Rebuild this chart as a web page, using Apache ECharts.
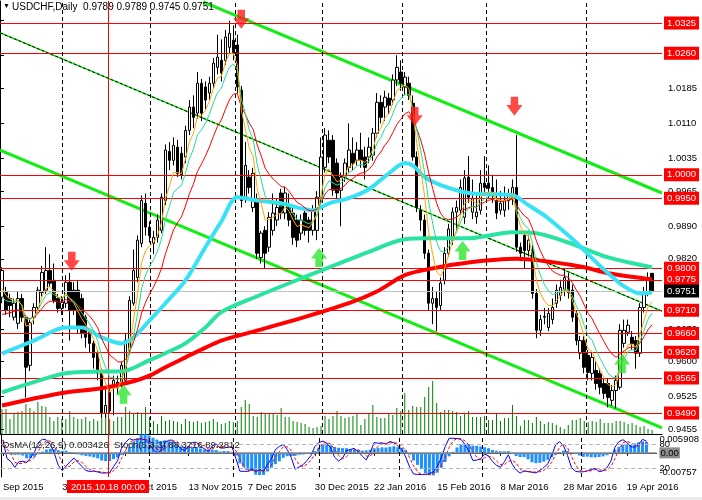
<!DOCTYPE html>
<html><head><meta charset="utf-8">
<script src="https://cdn.jsdelivr.net/npm/echarts@6/dist/echarts.min.js"></script>
<style>html,body{margin:0;padding:0;background:#fff}#c{width:702px;height:500px}</style>
</head><body><div id="c"></div>
<script>
// ---------- data ----------
const headerText = 'USDCHF,Daily  0.9789 0.9789 0.9745 0.9751';
const indicatorText = 'OsMA(12,26,9) 0.003426  Stoch(5,3,3) 88.3716 89.2812';
// candles: [open, close, low, high]
const candles = [
[.9738,.9795,.9725,.9802],[.9748,.9710,.9700,.9760],[.9735,.9720,.9695,.9745],[.9695,.9725,.9688,.9735],
[.9682,.9735,.9670,.9750],[.9735,.9695,.9685,.9745],[.9695,.9588,.9523,.9700],[.9592,.9684,.9580,.9690],
[.9695,.9716,.9680,.9725],[.9716,.9753,.9705,.9760],[.9748,.9791,.9740,.9805],[.9753,.9795,.9745,.9845],
[.9795,.9768,.9760,.9830],[.9774,.9731,.9725,.9810],[.9735,.9714,.9705,.9745],[.9714,.9727,.9700,.9740],
[.9725,.9770,.9715,.9785],[.9770,.9710,.9645,.9790],[.9753,.9710,.9700,.9770],[.9753,.9673,.9660,.9775],
[.9735,.9660,.9650,.9745],[.9695,.9652,.9630,.9700],[.9663,.9639,.9620,.9670],[.9639,.9609,.9585,.9645],
[.9618,.9575,.9560,.9625],[.9577,.9489,.9480,.9585],[.9489,.9506,.9480,.9540],[.9534,.9495,.9490,.9550],
[.9545,.9560,.9485,.9570],[.9556,.9545,.9530,.9570],[.9553,.9592,.9545,.9600],[.9560,.9645,.9550,.9660],
[.9624,.9731,.9615,.9740],[.9725,.9795,.9720,.9840],[.9780,.9860,.9770,.9870],[.9853,.9945,.9845,.9956],
[.9939,.9888,.9870,.9960],[.9888,.9870,.9855,.9900],[.9853,.9866,.9830,.9880],[.9866,.9903,.9855,.9915],
[.9881,.9952,.9875,.9960],[.9945,1.0053,.9935,1.0065],[1.0050,1.0031,1.0010,1.0070],[1.0031,1.0063,1.0020,1.0080],
[1.0059,1.0003,.9995,1.0075],[1.0046,.9999,.9990,1.0060],[1.0038,1.0095,1.0025,1.0105],[1.0095,1.0145,1.0085,1.0160],
[1.0145,1.0123,1.0100,1.0170],[1.0132,1.0196,1.0120,1.0220],[1.0196,1.0132,1.0115,1.0205],[1.0188,1.0160,1.0140,1.0200],
[1.0175,1.0196,1.0160,1.0210],[1.0196,1.0239,1.0185,1.0250],[1.0230,1.0252,1.0215,1.0300],[1.0245,1.0218,1.0200,1.0290],
[1.0245,1.0295,1.0235,1.0310],[1.0273,1.0303,1.0260,1.0330],[1.0288,1.0260,1.0245,1.0320],[1.0278,1.0188,1.0175,1.0300],
[1.0181,.9945,.9930,1.0190],[.9950,1.0020,.9940,1.0070],[.9995,.9973,.9960,1.0010],[.9930,1.0003,.9920,1.0015],
[.9945,.9832,.9820,.9960],[.9823,.9875,.9810,.9880],[.9881,.9832,.9800,.9890],[.9845,.9909,.9835,.9920],
[.9881,.9918,.9870,.9960],[.9903,.9930,.9890,.9950],[.9961,.9918,.9905,.9970],[.9918,.9961,.9905,.9975],
[.9930,.9903,.9890,.9960],[.9918,.9866,.9850,.9930],[.9903,.9860,.9845,.9915],[.9875,.9903,.9860,.9915],
[.9918,.9881,.9870,.9930],[.9903,.9881,.9855,.9910],[.9881,.9924,.9870,.9935],[.9881,.9952,.9860,.9965],
[.9952,1.0038,.9940,1.0080],[1.0016,1.0085,1.0005,1.0100],[1.0074,1.0038,1.0025,1.0095],[1.0074,.9967,.9955,1.0085],
[1.0025,.9961,.9950,1.0035],[.9967,.9995,.9890,1.0005],[.9995,1.0025,.9985,1.0035],[1.0016,1.0053,1.0005,1.0110],
[1.0046,1.0025,1.0010,1.0080],[1.0031,1.0053,1.0020,1.0070],[1.0053,1.0031,1.0015,1.0090],[1.0038,1.0016,.9990,1.0060],
[1.0038,1.0059,1.0025,1.0080],[1.0042,1.0089,1.0030,1.0100],[1.0089,1.0155,1.0080,1.0175],[1.0155,1.0123,1.0110,1.0170],
[1.0145,1.0166,1.0115,1.0180],[1.0164,1.0149,1.0130,1.0175],[1.0160,1.0203,1.0150,1.0215],[1.0203,1.0230,1.0190,1.0256],
[1.0220,1.0196,1.0180,1.0245],[1.0188,1.0209,1.0170,1.0220],[1.0196,1.0170,1.0160,1.0210],[1.0153,1.0038,1.0030,1.0170],
[1.0038,.9930,.9920,1.0050],[.9924,.9903,.9880,.9935],[.9903,.9832,.9820,.9915],[.9832,.9725,.9710,.9840],
[.9725,.9735,.9680,.9760],[.9735,.9716,.9665,.9750],[.9720,.9768,.9710,.9780],[.9774,.9832,.9765,.9845],
[.9832,.9884,.9825,.9895],[.9860,.9920,.9850,.9930],[.9920,.9930,.9880,.9945],[.9924,.9973,.9915,.9990],
[.9909,.9993,.9895,1.0010],[.9995,.9952,.9940,1.0040],[.9920,.9950,.9905,.9990],[.9910,.9920,.9895,.9960],
[.9924,.9982,.9915,1.0010],[.9982,.9973,.9955,1.0040],[.9982,.9971,.9950,1.0020],[.9973,.9963,.9940,1.0000],
[.9945,.9918,.9905,.9990],[.9924,.9939,.9915,.9965],[.9924,.9945,.9910,.9975],[.9945,.9956,.9925,.9970],
[.9952,.9973,.9935,.9990],[.9973,.9845,.9835,1.0085],[.9845,.9832,.9815,.9855],[.9870,.9838,.9800,.9880],
[.9838,.9860,.9825,.9870],[.9840,.9746,.9735,.9850],[.9746,.9667,.9650,.9755],[.9667,.9690,.9655,.9700],
[.9695,.9697,.9680,.9715],[.9673,.9703,.9665,.9715],[.9690,.9716,.9680,.9735],[.9725,.9753,.9715,.9765],
[.9742,.9759,.9730,.9775],[.9753,.9780,.9740,.9800],[.9774,.9748,.9735,.9790],[.9753,.9695,.9685,.9765],
[.9703,.9645,.9635,.9710],[.9618,.9645,.9605,.9655],[.9645,.9588,.9575,.9655],[.9613,.9577,.9560,.9625],
[.9575,.9609,.9560,.9620],[.9581,.9553,.9540,.9600],[.9575,.9545,.9530,.9585],[.9553,.9532,.9520,.9565],
[.9553,.9523,.9502,.9565],[.9517,.9538,.9505,.9550],[.9538,.9560,.9500,.9570],[.9545,.9667,.9540,.9680],
[.9639,.9667,.9630,.9690],[.9663,.9678,.9655,.9690],[.9652,.9639,.9625,.9665],[.9645,.9618,.9585,.9655],
[.9618,.9716,.9610,.9725],[.9716,.9746,.9705,.9760],[.9746,.9774,.9740,.9791],[.9789,.9751,.9745,.9789]
];
const volumes = [
25,25,15,20,22,23,30,26,23,32, 28,27,17,13,17,15,15,23,17,15, 15,17,13,15,13,20,20,15,13,17,
17,27,23,20,22,21,27,17,13,10, 18,13,14,13,12,10,15,13,12,13, 11,12,13,15,12,10,11,13,12,13,
27,34,30,18,17,22,21,20,21,19, 26,17,17,13,12,11,10,7,6,7, 8,18,15,18,23,18,16,17,18,21,
9,15,21,29,17,16,16,21,19,26, 23,41,24,28,27,27,37,47,53,31, 22,24,24,23,22,18,20,23,17,17,
17,18,14,14,21,13,16,16,29,18, 8,14,14,11,17,13,10,12,11,9, 7,5,9,14,14,16,13,12,13,12,
15,11,11,11,13,13,12,10,11,9, 7,8,5,4
];
// slow moving averages: [bar, price]
const maCyan = [[0,.9617],[8,.9645],[16,.9673],[20,.9673],[25,.9652],[30,.9639],[33,.9652],[37,.9688],[41,.9725],[46,.9774],[51,.9845],[55,.9900],[59,.9952],[64,.9945],[70,.9939],[75,.9928],[78,.9924],[82,.9939],[87,.9950],[92,.9969],[97,1.0003],[101,1.0025],[103,1.0020],[106,.9995],[110,.9978],[117,.9961],[128,.9956],[132,.9935],[136,.9913],[140,.9885],[144,.9855],[148,.9821],[152,.9789],[156,.9761],[160,.9746],[163,.9748]];
const maTeal = [[0,.9534],[8,.9556],[16,.9575],[25,.9579],[30,.9579],[37,.9603],[41,.9618],[46,.9639],[51,.9673],[55,.9706],[64,.9740],[75,.9778],[92,.9835],[101,.9862],[107,.9864],[117,.9864],[128,.9877],[134,.9875],[142,.9855],[152,.9823],[163,.9802]];
const maRed = [[0,.9506],[8,.9521],[16,.9534],[25,.9543],[33,.9558],[37,.9570],[41,.9588],[46,.9609],[51,.9630],[55,.9645],[62,.9662],[75,.9693],[87,.9725],[94,.9750],[101,.9785],[107,.9798],[117,.9812],[129,.9820],[138,.9813],[146,.9802],[152,.9789],[163,.9776]];
const thinMaPeriods = [5, 8, 15];
const thinMaStart = [0.9738, 0.9720, 0.9688];
const levels = [1.0325, 1.0260, 1.0000, 0.9950, 0.9800, 0.9775, 0.9710, 0.9660, 0.9620, 0.9565, 0.9490];
const lastPrice = 0.9751;
const priceTicks = [0.9455, 0.9525, 0.9600, 0.9670, 0.9745, 0.9820, 0.9890, 0.9965, 1.0035, 1.0110, 1.0185, 1.0255, 1.0330];
const dateLabels = {0:'Sep 2015',15:'30 Sep 2015',31:'22 Oct 2015',47:'13 Nov 2015',62:'7 Dec 2015',79:'30 Dec 2015',94:'22 Jan 2016',110:'15 Feb 2016',126:'8 Mar 2016',142:'28 Mar 2016',158:'19 Apr 2016'};
const monthSeparators = [15.5, 37.6, 58.9, 80.7, 100.8, 121.9, 146.9];
const markerBar = 27.1;
const markerText = '2015.10.18 00:00';
const channelUpper = [[50.4, 1.0370], [165.5, 0.9961]];
const channelLower = [[-0.5, 1.0053], [165.5, 0.9458]];
const channelMid = [[-0.5, 1.0304], [165.5, 0.9708]];
const downArrows = [[17.5, 0.9815], [60, 1.0333], [103.5, 1.0125], [128.5, 1.0147]];
const upArrows = [[30.5, 0.9530], [79.5, 0.9823], [115.5, 0.9838], [155.5, 0.9596]];
const osmaRange = [-0.00757, 0.005908];
const stochLevels = [80, 20];

// ---------- derived ----------
const NCAT = 166;
const cats = Array.from({length: NCAT}, (_, i) => String(i));
const closes = candles.map(c => c[1]), lows = candles.map(c => c[2]), highs = candles.map(c => c[3]);
function ema(src, n, seed) { const a = 2 / (n + 1); let e = seed; return src.map(v => (e += a * (v - e))); }
function sma(src, n) { return src.map((v, i) => { const s = src.slice(Math.max(0, i - n + 1), i + 1); return s.reduce((a, b) => a + b, 0) / s.length; }); }
const thin = thinMaPeriods.map((p, k) => ema(closes, p, thinMaStart[k]));
const ema12 = ema(closes, 12, closes[0]), ema26 = ema(closes, 26, closes[0]);
const macd = ema12.map((v, i) => v - ema26[i]);
const signal = sma(macd, 9);
const osma = macd.map((v, i) => v - signal[i]);
const hh = highs.map((v, i) => Math.max(...highs.slice(Math.max(0, i - 4), i + 1)));
const ll = lows.map((v, i) => Math.min(...lows.slice(Math.max(0, i - 4), i + 1)));
const stK = closes.map((c, i) => { let a = 0, b = 0; for (let j = Math.max(0, i - 2); j <= i; j++) { a += closes[j] - ll[j]; b += hh[j] - ll[j]; } return b ? a / b * 100 : 50; });
const stD = sma(stK, 3);
const vx = p => p.map(d => [d[0] + 0.5, d[1]]);

const F = 'Liberation Sans, Arial, sans-serif';
const FS = 9.5;
const chart = echarts.init(document.getElementById('c'), null, {renderer: 'canvas'});
const PMAX = 1.03721, PMIN = 0.94450;
const option = {
  animation: false,
  backgroundColor: '#fff',
  textStyle: {fontFamily: F},
  grid: [
    {left: 0, right: 40, top: 1, height: 433},
    {left: 0, right: 40, top: 434, height: 43}
  ],
  xAxis: [
    {type: 'category', gridIndex: 0, data: cats, boundaryGap: true, axisLine: {show: true, lineStyle: {color: '#000', width: 1}}, axisTick: {show: false}, axisLabel: {show: false}, splitLine: {show: false}},
    {type: 'value', gridIndex: 0, min: 0, max: NCAT, show: false},
    {type: 'category', gridIndex: 1, data: cats, boundaryGap: true,
      axisLine: {show: true, lineStyle: {color: '#000', width: 1}},
      axisTick: {show: true, alignWithLabel: true, length: 3, interval: (i) => dateLabels[i] !== undefined, lineStyle: {color: '#000'}},
      axisLabel: {interval: (i) => dateLabels[i] !== undefined, formatter: (v, i) => dateLabels[i] || '', align: 'left', margin: 5, color: '#000', fontSize: FS, fontFamily: F},
      splitLine: {show: false}},
    {type: 'value', gridIndex: 1, min: 0, max: NCAT, show: false}
  ],
  yAxis: [
    {type: 'value', gridIndex: 0, position: 'right', min: PMIN, max: PMAX,
      axisLine: {show: true, lineStyle: {color: '#000'}},
      axisTick: {show: true, customValues: priceTicks, length: 4, lineStyle: {color: '#000'}},
      axisLabel: {customValues: priceTicks, formatter: v => v.toFixed(4), color: '#000', fontSize: FS, fontFamily: F, margin: 6},
      splitLine: {show: false}},
    {type: 'value', gridIndex: 0, min: 0, max: 433, show: false},
    {type: 'value', gridIndex: 1, position: 'right', min: osmaRange[0], max: osmaRange[1],
      axisLine: {show: true, lineStyle: {color: '#000'}}, axisTick: {show: false}, splitLine: {show: false},
      axisLabel: {customValues: [osmaRange[0], 0, osmaRange[1]], margin: 3, fontSize: FS, fontFamily: F, color: '#000',
        verticalAlignMinLabel: 'bottom', verticalAlignMaxLabel: 'top',
        formatter: v => v === 0 ? '{z|0.00}' : (v > 0 ? '0.005908' : '-0.00757'),
        rich: {z: {backgroundColor: '#8c8c8c', color: '#000', fontSize: FS, padding: [1, 1, 0, 1]}}}},
    {type: 'value', gridIndex: 1, position: 'right', min: -1.75, max: 105.75,
      axisLine: {show: false}, axisTick: {show: false}, splitLine: {show: false},
      axisLabel: {customValues: stochLevels, margin: 3, fontSize: FS, fontFamily: F, color: '#000', formatter: v => String(v)}}
  ],
  series: [
    {type: 'bar', name: 'volume', xAxisIndex: 0, yAxisIndex: 1, data: volumes, barWidth: 1, itemStyle: {color: '#008000'}, silent: true, z: 1},
    {type: 'line', name: 'levels', xAxisIndex: 0, yAxisIndex: 0, data: [], z: 2,
      markLine: {silent: true, symbol: ['none', 'none'], precision: 4,
        lineStyle: {color: '#ff0000', width: 1, type: 'solid'},
        label: {position: 'end', distance: 2, formatter: p => Number(p.value).toFixed(4), backgroundColor: '#ff0000', color: '#fff', fontSize: FS, fontFamily: F, padding: [2, 3, 1, 3]},
        data: levels.map(v => ({yAxis: v})).concat([{yAxis: lastPrice, lineStyle: {color: '#c0c0c0'}, label: {backgroundColor: '#000', color: '#fff'}}])}},
    {type: 'line', name: 'separators', xAxisIndex: 1, yAxisIndex: 0, data: [], z: 2,
      markLine: {silent: true, symbol: ['none', 'none'], label: {show: false},
        data: monthSeparators.map(v => ({xAxis: v, lineStyle: {color: '#000', type: [4, 3], width: 1}})).concat([{xAxis: markerBar, lineStyle: {color: '#ff0000', type: 'solid', width: 1}}])}},
    {type: 'line', xAxisIndex: 1, yAxisIndex: 0, data: vx(channelUpper), symbol: 'none', lineStyle: {color: '#11ee11', width: 3}, z: 3, silent: true},
    {type: 'line', xAxisIndex: 1, yAxisIndex: 0, data: vx(channelLower), symbol: 'none', lineStyle: {color: '#11ee11', width: 3}, z: 3, silent: true},
    {type: 'line', xAxisIndex: 1, yAxisIndex: 0, data: vx(channelMid), symbol: 'none', lineStyle: {color: '#11ee11', width: 1.5}, z: 3, silent: true},
    {type: 'line', xAxisIndex: 1, yAxisIndex: 0, data: vx(channelMid), symbol: 'none', lineStyle: {color: '#000', width: 1, type: [3, 2]}, z: 3, silent: true},
    {type: 'candlestick', xAxisIndex: 0, yAxisIndex: 0, data: candles, barWidth: 3, z: 4, silent: true,
      itemStyle: {color: '#ffffff', color0: '#000000', borderColor: '#000000', borderColor0: '#000000', borderWidth: 1}},
    {type: 'line', xAxisIndex: 1, yAxisIndex: 0, data: vx(maRed), symbol: 'none', smooth: 0.3, lineStyle: {color: '#ff0000', width: 4}, z: 5, silent: true},
    {type: 'line', xAxisIndex: 1, yAxisIndex: 0, data: vx(maTeal), symbol: 'none', smooth: 0.3, lineStyle: {color: '#2be3a0', width: 4}, z: 5, silent: true},
    {type: 'line', xAxisIndex: 1, yAxisIndex: 0, data: vx(maCyan), symbol: 'none', smooth: 0.3, lineStyle: {color: '#38e2f6', width: 4}, z: 5, silent: true},
    {type: 'line', xAxisIndex: 0, yAxisIndex: 0, data: thin[2], symbol: 'none', lineStyle: {color: '#ff0000', width: 1}, z: 6, silent: true},
    {type: 'line', xAxisIndex: 0, yAxisIndex: 0, data: thin[1], symbol: 'none', lineStyle: {color: '#22e090', width: 1}, z: 6, silent: true},
    {type: 'line', xAxisIndex: 0, yAxisIndex: 0, data: thin[0], symbol: 'none', lineStyle: {color: '#ffa500', width: 1}, z: 6, silent: true},
    {type: 'scatter', xAxisIndex: 1, yAxisIndex: 0, data: vx(downArrows), symbol: 'path://M4,0 L11,0 L11,8 L15,8 L7.5,18 L0,8 L4,8 Z', symbolSize: [16, 19], itemStyle: {color: '#ff1a1a'}, z: 8, silent: true},
    {type: 'scatter', xAxisIndex: 1, yAxisIndex: 0, data: vx(upArrows), symbol: 'path://M7.5,0 L15,10 L11,10 L11,18 L4,18 L4,10 L0,10 Z', symbolSize: [16, 19], itemStyle: {color: '#2ee62e'}, z: 8, silent: true},
    // indicator window
    {type: 'bar', xAxisIndex: 2, yAxisIndex: 2, data: osma, barWidth: 3, clip: true, itemStyle: {color: '#1e90ff'}, z: 2, silent: true,
      markLine: {silent: true, symbol: ['none', 'none'], label: {show: false}, data: [{yAxis: 0}], lineStyle: {color: '#8c8c8c', width: 1.5, type: 'solid'}}},
    {type: 'line', xAxisIndex: 2, yAxisIndex: 3, data: stK, symbol: 'none', lineStyle: {color: '#0000ff', width: 1}, z: 4, silent: true,
      markLine: {silent: true, symbol: ['none', 'none'], label: {show: false}, data: stochLevels.map(v => ({yAxis: v})), lineStyle: {color: '#b4b4b4', width: 1, type: [4, 3]}}},
    {type: 'line', xAxisIndex: 2, yAxisIndex: 3, data: stD, symbol: 'none', lineStyle: {color: '#ff0000', width: 1, type: [3, 2]}, z: 4, silent: true},
    {type: 'line', xAxisIndex: 3, yAxisIndex: 2, data: [], z: 3,
      markLine: {silent: true, symbol: ['none', 'none'], label: {show: false},
        data: monthSeparators.map(v => ({xAxis: v, lineStyle: {color: '#000', type: [4, 3], width: 1}})).concat([{xAxis: markerBar, lineStyle: {color: '#ff0000', type: 'solid', width: 1}}])}}
  ]
};
chart.setOption(option);
const mx = chart.convertToPixel({xAxisIndex: 3}, markerBar);
chart.setOption({graphic: [
  {type: 'text', left: 3, top: 3, z: 20, style: {text: '▼', fontSize: 7, fill: '#000'}},
  {type: 'text', left: 12, top: 2, z: 20, style: {text: headerText, fontSize: FS + 0.5, fontFamily: F, fill: '#000'}},
  {type: 'text', left: 2, top: 440, z: 20, style: {text: indicatorText, fontSize: FS, fontFamily: F, fill: '#222'}},
  {type: 'text', x: mx, y: 480, z: 20, style: {text: markerText, align: 'center', fontSize: FS, fontFamily: F, fill: '#fff', backgroundColor: '#ff0000', padding: [2, 4, 1, 4]}},
  {type: 'rect', shape: {x: 0, y: 497, width: 702, height: 3}, style: {fill: '#ececec'}, z: 0}
]});
</script></body></html>
